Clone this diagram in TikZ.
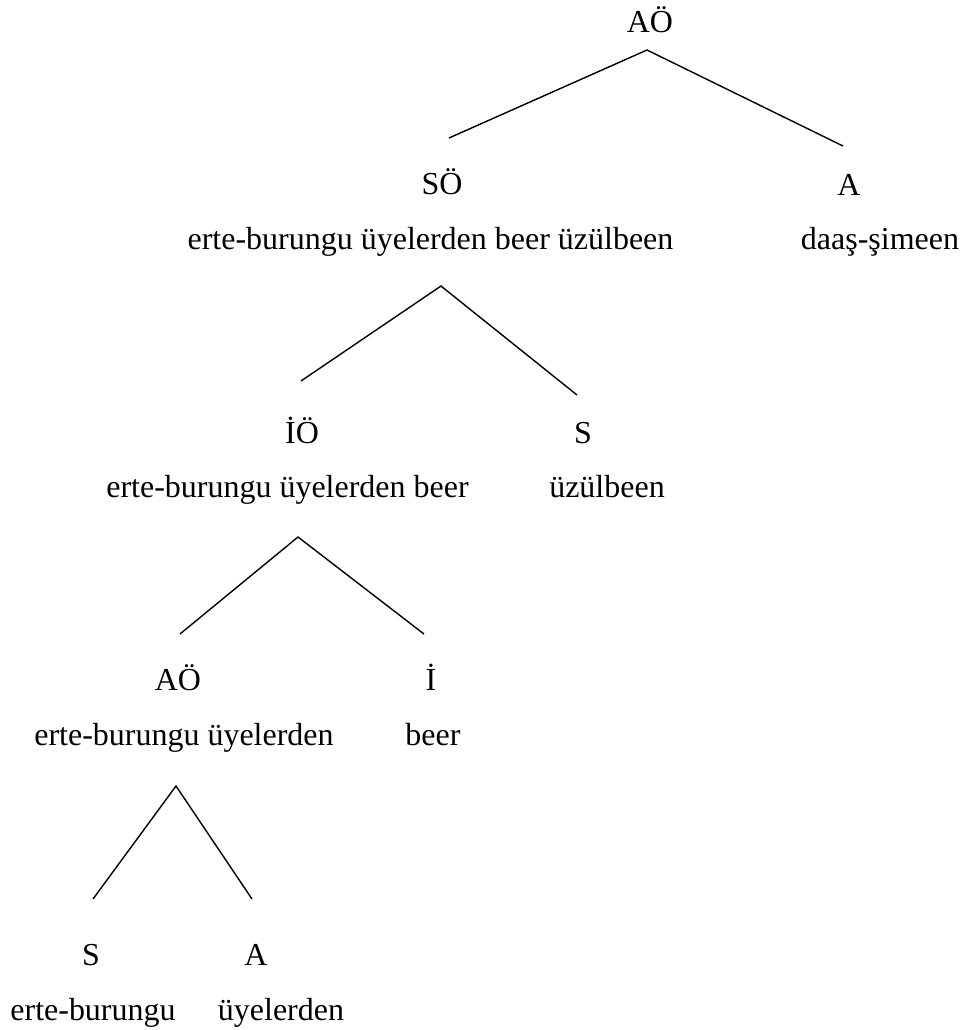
\documentclass[tikz,border=0pt]{standalone}
\usepackage{fontspec}
\setmainfont{Liberation Serif}
\begin{document}
\begin{tikzpicture}[
    node_style/.style={anchor=base, inner sep=0pt, font=\fontsize{9.1}{11}\selectfont},
    branch/.style={line width=0.4pt}
]
\useasboundingbox (0,0) rectangle (9.69,-10.30);
% Niveau 0
\node[node_style] (ao0) at (6.50,-0.32) {AÖ};
% Niveau 1
\node[node_style] (so) at (4.42,-1.94) {SÖ};
\node[node_style] (so_w) at (4.305,-2.49) {erte-burungu üyelerden beer üzülbeen};
\node[node_style] (a1) at (8.49,-1.95) {A};
\node[node_style] (a1_w) at (8.80,-2.49) {daaş-şimeen};
% Niveau 2
\node[node_style] (io) at (3.02,-4.43) {İÖ};
\node[node_style] (io_w) at (2.875,-4.97) {erte-burungu üyelerden beer};
\node[node_style] (s1) at (5.83,-4.43) {S};
\node[node_style] (s1_w) at (6.07,-4.97) {üzülbeen};
% Niveau 3
\node[node_style] (ao1) at (1.78,-6.90) {AÖ};
\node[node_style] (ao1_w) at (1.84,-7.45) {erte-burungu üyelerden};
\node[node_style] (i1) at (4.31,-6.90) {İ};
\node[node_style] (i1_w) at (4.33,-7.45) {beer};
% Niveau 4
\node[node_style] (s2) at (0.91,-9.65) {S};
\node[node_style] (s2_w) at (0.93,-10.20) {erte-burungu};
\node[node_style] (a2) at (2.56,-9.65) {A};
\node[node_style] (a2_w) at (2.81,-10.20) {üyelerden};
% Branches
\draw[branch] ([shift={(0.07,0.56)}]so.base) -- ([shift={(-0.03,-0.18)}]ao0.base) -- ([shift={(-0.06,0.49)}]a1.base);
\draw[branch] ([shift={(-0.01,0.62)}]io.base) -- ([shift={(0.105,-0.37)}]so_w.base) -- ([shift={(-0.06,0.48)}]s1.base);
\draw[branch] ([shift={(0.02,0.56)}]ao1.base) -- ([shift={(0.105,-0.40)}]io_w.base) -- ([shift={(-0.07,0.56)}]i1.base);
\draw[branch] ([shift={(0.02,0.66)}]s2.base) -- ([shift={(-0.08,-0.41)}]ao1_w.base) -- ([shift={(-0.04,0.66)}]a2.base);
\end{tikzpicture}
\end{document}
